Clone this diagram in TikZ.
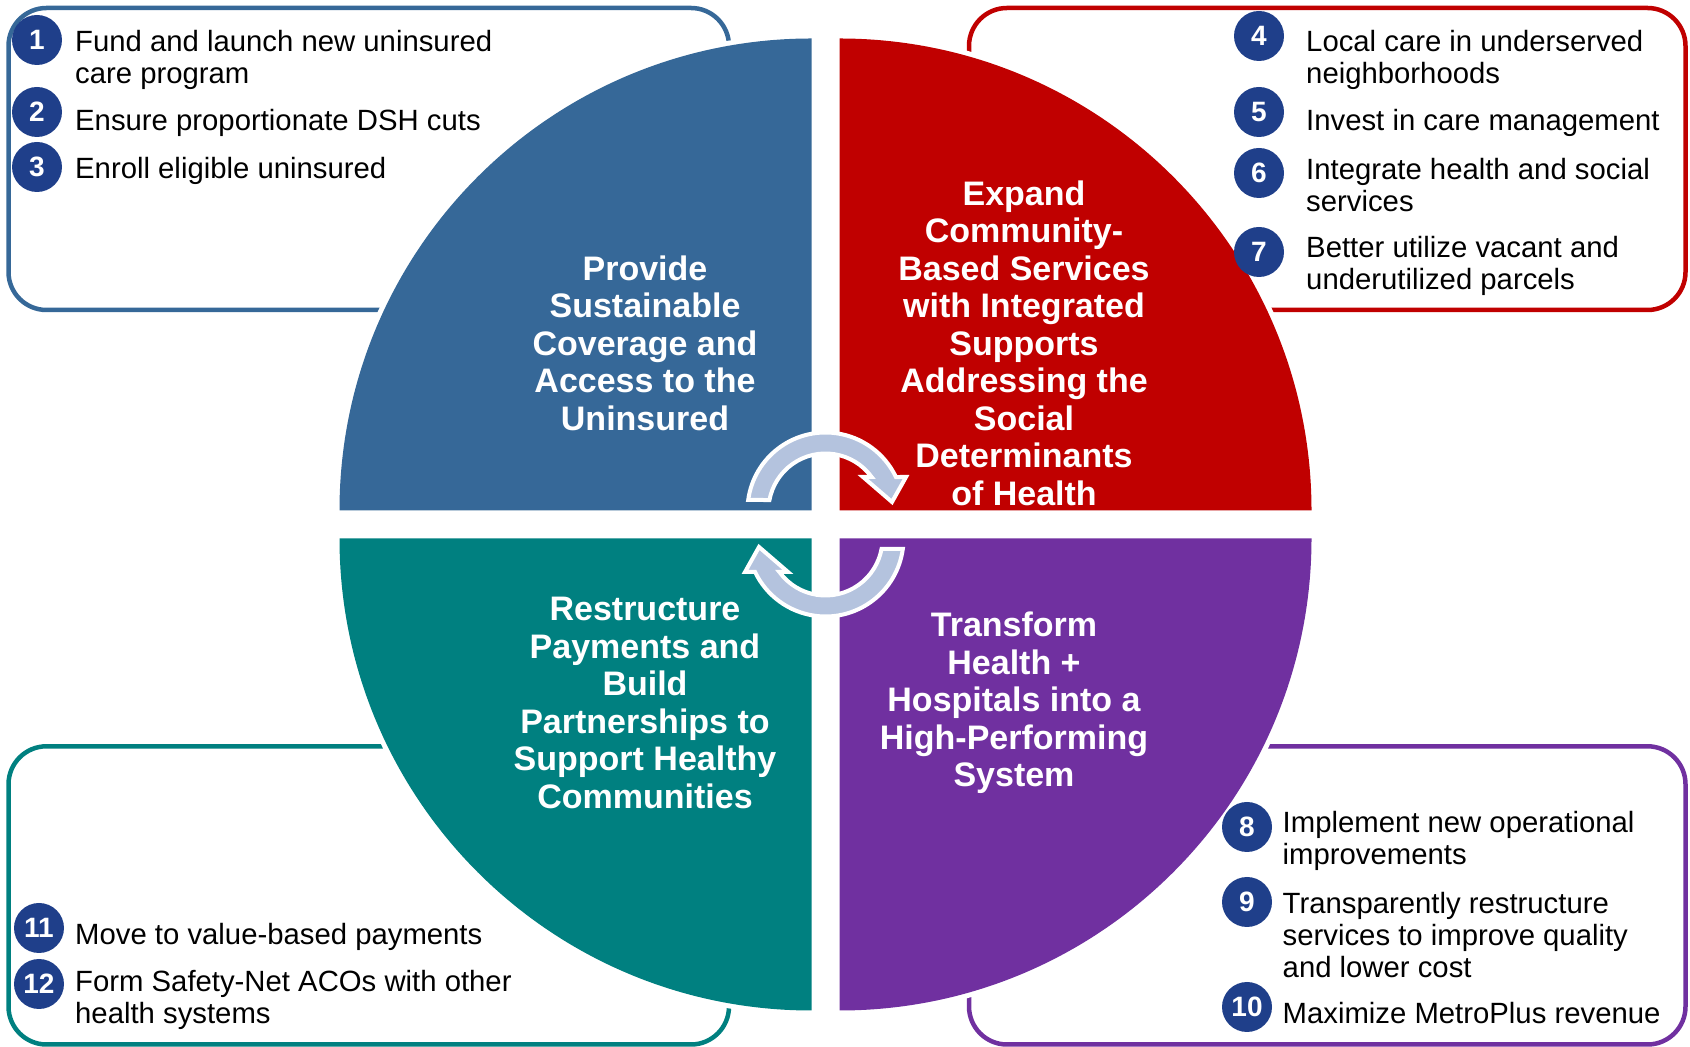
\documentclass[tikz,border=0pt]{standalone}
\usepackage{fontspec}
\setmainfont{Liberation Sans}
\usepackage{tikz}
\usetikzlibrary{
  positioning,
  arrows.meta
}
\usepackage{xcolor}
\definecolor{qblue}{HTML}{366898}
\definecolor{qred}{HTML}{C00000}
\definecolor{qteal}{HTML}{008080}
\definecolor{qpurple}{HTML}{7030A0}
\definecolor{numblue}{HTML}{1F3F8A}
\definecolor{cyclefill}{HTML}{B4C3DE}

\tikzset{
  numdot/.style={circle, fill=numblue, text=white, minimum size=50pt, inner sep=0pt,
    font=\bfseries\fontsize{28}{28}\selectfont},
  item/.style={anchor=west, align=left, inner sep=0pt, font=\fontsize{29.3}{32}\selectfont},
  quadtitle/.style={align=center, text=white, inner sep=0pt, font=\bfseries\fontsize{34}{37.5}\selectfont},
  goalbox/.style={line width=4.5pt, rounded corners=38pt}
}

\begin{document}
\begin{tikzpicture}[x=1pt,y=1pt]

		\useasboundingbox (0,0) rectangle (1690,1047);

		% outline boxes
		\draw[goalbox, qblue] (8.5,737) rectangle (729,1039);
		\draw[goalbox, qred] (969,737) rectangle (1685.5,1039);
		\draw[goalbox, qteal] (8.5,2.5) rectangle (729,300.7);
		\draw[goalbox, qpurple] (969,2.5) rectangle (1685.5,300.7);

		% white margin round the quadrants
		\foreach \a/\x/\y in {90/811.5/536.5, 0/839.5/536.5, 180/811.5/508.5, 270/839.5/508.5}
			\fill[white] (\x,\y) -- ++(\a:477pt) arc[start angle=\a, end angle=\a+90, radius=477pt] -- cycle;

		% quadrants
		\fill[qblue] (811.5,536.5) -- ++(90:472pt) arc[start angle=90, end angle=180, radius=472pt] -- cycle;
		\fill[qred] (839.5,536.5) -- ++(0:472pt) arc[start angle=0, end angle=90, radius=472pt] -- cycle;
		\fill[qteal] (811.5,508.5) -- ++(180:472pt) arc[start angle=180, end angle=270, radius=472pt] -- cycle;
		\fill[qpurple] (839.5,508.5) -- ++(270:472pt) arc[start angle=270, end angle=360, radius=472pt] -- cycle;

		% quadrant titles
		\node[quadtitle] (coverage) at (645,704) {Provide\\Sustainable\\Coverage and\\Access to the\\Uninsured};
		\node[quadtitle] (community) at (1024,704) {Expand\\Community-\\Based Services\\with Integrated\\Supports\\Addressing the\\Social\\Determinants\\of Health};
		\node[quadtitle] (payments) at (645,344) {Restructure\\Payments and\\Build\\Partnerships to\\Support Healthy\\Communities};
		\node[quadtitle] (transform) at (1014,344) {Transform\\Health +\\Hospitals into a\\High-Performing\\System};

		% cycle arrows
		\foreach \r in {0,180} {
			\begin{scope}[rotate around={\r:(825.5,522.5)}]
				\filldraw[fill=cyclefill, draw=white, line width=4pt, line join=miter]
					(748.2,547) arc[start angle=172.26, end angle=25.43, radius=78pt]
					-- (906,570) -- (892,545) -- (863,570) -- (871.6,570)
					arc[start angle=36, end angle=169.39, radius=57pt] -- cycle;
			\end{scope}
		}

		% items: coverage
		\node[numdot] (n1) at (37,1007) {1};
		\node[item] (t1) at (75,987) {Fund and launch new uninsured\\care program};
		\node[numdot] (n2) at (37,935) {2};
		\node[item] (t2) at (75,924) {Ensure proportionate DSH cuts};
		\node[numdot] (n3) at (37,880) {3};
		\node[item] (t3) at (75,876) {Enroll eligible uninsured};

		% items: community
		\node[numdot] (n4) at (1259,1011) {4};
		\node[item] (t4) at (1306,987) {Local care in underserved\\neighborhoods};
		\node[numdot] (n5) at (1259,935) {5};
		\node[item] (t5) at (1306,924) {Invest in care management};
		\node[numdot] (n6) at (1259,874) {6};
		\node[item] (t6) at (1306,862) {Integrate health and social\\services};
		\node[numdot] (n7) at (1259,795) {7};
		\node[item] (t7) at (1306,781) {Better utilize vacant and\\underutilized parcels};

		% items: transform
		\node[numdot] (n8) at (1247,220) {8};
		\node[item] (t8) at (1282.5,206) {Implement new operational\\improvements};
		\node[numdot] (n9) at (1247,145) {9};
		\node[item] (t9) at (1282.5,112) {Transparently restructure\\services to improve quality\\and lower cost};
		\node[numdot] (n10) at (1247,40) {10};
		\node[item] (t10) at (1282.5,33.5) {Maximize MetroPlus revenue};

		% items: payments
		\node[numdot] (n11) at (39,119) {11};
		\node[item] (t11) at (75,110.5) {Move to value-based payments};
		\node[numdot] (n12) at (39,63) {12};
		\node[item] (t12) at (75,47) {Form Safety-Net ACOs with other\\health systems};

	\end{tikzpicture}
\end{document}
